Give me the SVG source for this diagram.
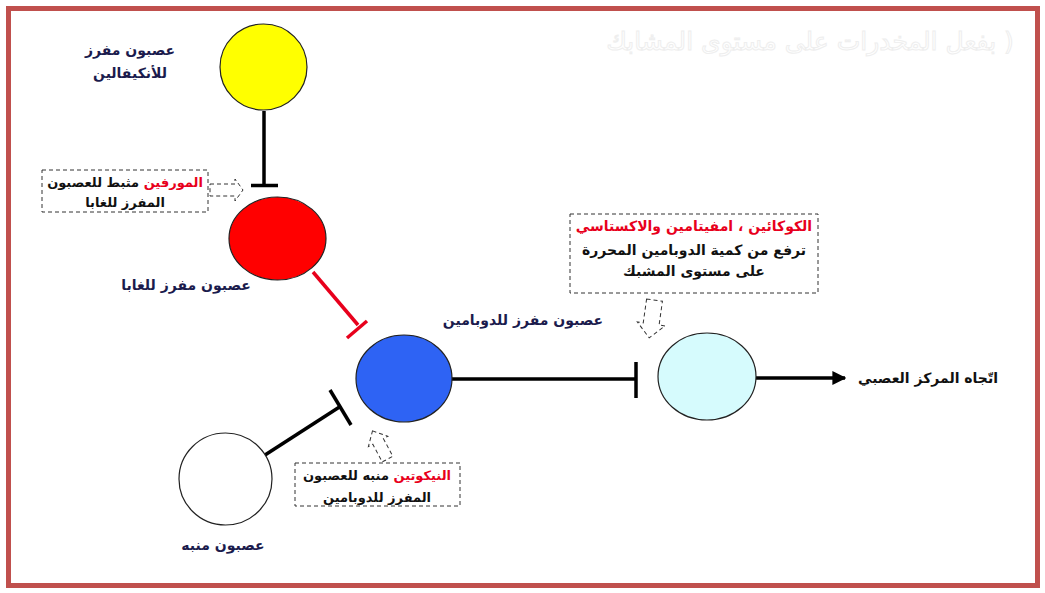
<svg xmlns="http://www.w3.org/2000/svg" width="1045" height="593" viewBox="0 0 1045 593">
<defs>
<style>
.lbl{font-family:"DejaVu Sans","Noto Sans",sans-serif;font-weight:bold;font-size:14px;fill:#1b1b4d;text-anchor:middle;direction:rtl}
.box{font-family:"DejaVu Sans","Noto Sans",sans-serif;font-weight:bold;font-size:13px;fill:#111;text-anchor:middle;direction:rtl}
.big{font-size:14px}
.red{fill:#e8001c}
.dash{fill:none;stroke:#333;stroke-width:1;stroke-dasharray:4 3}
.node{stroke:#222;stroke-width:1.2}
.con{fill:none;stroke:#000;stroke-width:3.5}
.wm{font-family:"DejaVu Sans",sans-serif;font-size:25px;fill:#fff;stroke:#eeeeee;stroke-width:1;text-anchor:middle;direction:rtl}
</style>
<marker id="ah" viewBox="0 0 10 10" refX="9" refY="5" markerWidth="4" markerHeight="4" orient="auto" markerUnits="strokeWidth">
<path d="M0,0 L10,5 L0,10 z" fill="#000"/>
</marker>
</defs>
<rect x="0" y="0" width="1045" height="593" fill="#fff"/>
<rect x="8.5" y="8.5" width="1029" height="577" fill="none" stroke="#c0504d" stroke-width="5"/>
<text class="wm" x="810" y="50">( بفعل المخدرات على مستوى المشابك</text>

<g id="connectors">
<line class="con" x1="264" y1="111" x2="264" y2="185"/>
<line class="con" x1="251" y1="185.5" x2="278" y2="185.5"/>
<line class="con" x1="313" y1="272" x2="358" y2="325" style="stroke:#e8001c"/>
<line class="con" x1="347" y1="338" x2="367" y2="321" style="stroke:#e8001c"/>
<line class="con" x1="452" y1="379" x2="636" y2="379"/>
<line class="con" x1="636" y1="362" x2="636" y2="398"/>
<line class="con" x1="756" y1="378" x2="845" y2="378" marker-end="url(#ah)"/>
<line class="con" x1="265" y1="455" x2="341" y2="406"/>
<line class="con" x1="330" y1="390" x2="351" y2="425"/>
</g>

<g id="node-enkephalin">
<ellipse class="node" cx="263.5" cy="67" rx="43.5" ry="43" fill="#ffff00"/>
<text class="lbl" x="130" y="55">عصبون مفرز</text>
<text class="lbl" x="130" y="78">للأنكيفالين</text>
</g>

<g id="node-gaba">
<ellipse class="node" cx="277.5" cy="238.5" rx="48.5" ry="41.5" fill="#ff0000"/>
<text class="lbl" x="186" y="290">عصبون مفرز للغابا</text>
</g>

<g id="node-dopamine">
<ellipse class="node" cx="404" cy="378.5" rx="48" ry="43.5" fill="#2e63f4"/>
<text class="lbl" x="523" y="325">عصبون مفرز للدوبامين</text>
</g>

<g id="node-post">
<ellipse class="node" cx="707" cy="376.5" rx="49" ry="43.5" fill="#d6fbfd"/>
</g>

<g id="node-center">
<text class="lbl" x="928" y="383" style="fill:#111">اتّجاه المركز العصبي</text>
</g>

<g id="node-excit">
<ellipse class="node" cx="225.5" cy="479" rx="46.5" ry="46" fill="#ffffff"/>
<text class="lbl" x="223" y="550">عصبون منبه</text>
</g>

<g id="note-morphine">
<rect class="dash" x="42" y="170" width="166" height="42"/>
<text class="box" x="125" y="187"><tspan class="red">المورفين</tspan> مثبط للعصبون</text>
<text class="box" x="125" y="207">المفرز للغابا</text>
<polygon class="dash" points="210,184 235,184 235,179 243,190 235,201 235,196 210,196"/>
</g>

<g id="note-cocaine">
<rect class="dash" x="570" y="214" width="248" height="79"/>
<text class="box big red" x="694" y="231">الكوكائين ، امفيتامين والاكستاسي</text>
<text class="box big" x="694" y="255">ترفع من كمية الدوبامين المحررة</text>
<text class="box big" x="694" y="276">على مستوى المشبك</text>
<polygon class="dash" transform="translate(652,318) rotate(8)" points="-8,-18 8,-18 8,6 14,6 0,20 -14,6 -8,6"/>
</g>

<g id="note-nicotine">
<rect class="dash" x="295" y="463" width="165" height="43"/>
<text class="box" x="377" y="480"><tspan class="red">النيكوتين</tspan> منبه للعصبون</text>
<text class="box" x="377" y="502">المفرز للدوبامين</text>
<polygon class="dash" transform="translate(380,445) rotate(-28)" points="0,-16 11,-4 6,-4 6,16 -6,16 -6,-4 -11,-4"/>
</g>
</svg>
